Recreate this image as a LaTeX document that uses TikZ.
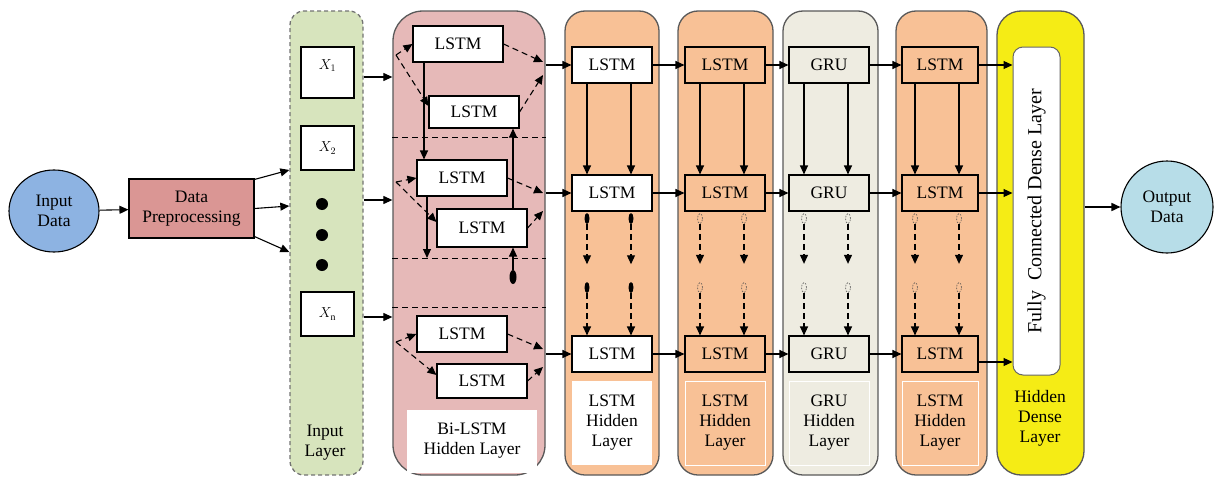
\documentclass[tikz,border=0pt]{standalone}
\usepackage{fontspec}
\setmainfont{Liberation Serif}
\usetikzlibrary{arrows.meta,shapes.geometric}
\definecolor{inblue}{HTML}{8DB3E2}
\definecolor{outblue}{HTML}{B7DDE8}
\definecolor{prepred}{HTML}{DA9694}
\definecolor{ingreen}{HTML}{D7E4BD}
\definecolor{birose}{HTML}{E6B9B8}
\definecolor{peach}{HTML}{F8C196}
\definecolor{grubeige}{HTML}{EEECE1}
\definecolor{denseyellow}{HTML}{F5EC15}
\newcommand{\txtsize}{\fontsize{17.5}{20}\selectfont}
\tikzset{
  layer/.style={draw=black!65, line width=1.3pt, rounded corners=20pt,
    minimum height=464pt, inner sep=0pt},
  cell/.style={draw, line width=1.1pt, minimum width=80pt, minimum height=36pt,
    inner sep=0pt, font=\txtsize},
  xbox/.style={draw, fill=white, line width=1.1pt, minimum width=53pt,
    minimum height=44pt, inner sep=0pt, font=\fontsize{14}{16}\selectfont},
  caption/.style={minimum width=80pt, minimum height=84pt, inner sep=0pt,
    align=center, font=\txtsize},
  arr/.style={-{Triangle[length=9pt,width=8pt]}, line width=1.1pt},
  darr/.style={arr, dash pattern=on 6pt off 4pt},
  sepline/.style={line width=1pt, dash pattern=on 6pt off 4pt},
  bigdot/.style={circle, fill=black, minimum size=12pt, inner sep=0pt},
  fullmark/.style={ellipse, fill=black, minimum width=5pt, minimum height=11pt, inner sep=0pt},
  ghostmark/.style={ellipse, draw=black!70, line width=0.6pt, dash pattern=on 1.5pt off 1.5pt,
    minimum width=5pt, minimum height=10pt, inner sep=0pt}
}
\begin{document}
\begin{tikzpicture}[x=1pt,y=-1pt]
  \useasboundingbox (0,0) rectangle (1215,479);

  % Define layers
  \node[layer, fill=ingreen, draw=black!55, dash pattern=on 4pt off 3pt,
    rounded corners=14pt, minimum width=73pt] (inlayer) at (326.5,243) {};
  \node[layer, fill=birose, rounded corners=30pt, minimum width=152pt] (bilayer) at (469,243) {};
  \node[layer, fill=peach, minimum width=94pt] (lstmlayerA) at (612,243) {};
  \node[layer, fill=peach, minimum width=95pt] (lstmlayerB) at (725.5,243) {};
  \node[layer, fill=grubeige, minimum width=95pt] (grulayer) at (830.5,243) {};
  \node[layer, fill=peach, minimum width=91pt] (lstmlayerC) at (941.5,243) {};
  \node[layer, fill=denseyellow, rounded corners=24pt, minimum width=87pt] (denselayer) at (1040.5,243) {};

  % Define nodes
  \node[ellipse, draw, line width=1.1pt, fill=inblue, minimum width=90pt, minimum height=82pt,
    align=center, font=\txtsize] (indata) at (54,211) {Input\\Data};
  \node[draw, line width=1.1pt, fill=prepred, minimum width=125pt, minimum height=59pt,
    align=center, font=\txtsize] (prep) at (191.5,208.5) {Data\\Preprocessing};
  \node[circle, draw, line width=1.1pt, fill=outblue, minimum size=92pt,
    align=center, font=\txtsize] (outdata) at (1167,207) {Output\\Data};

  % input layer
  \node[xbox, minimum height=51pt,
    label={[anchor=north, yshift=-10pt, font=\fontsize{14}{16}\selectfont]north:$X_1$}] (x1) at (327.5,72.5) {};
  \node[xbox] (x2) at (327.5,148) {$X_2$};
  \node[xbox] (xn) at (327.5,314) {$X_{\mathrm{n}}$};
  \node[bigdot] (dotA) at (322,204) {};
  \node[bigdot] (dotB) at (322,235) {};
  \node[bigdot] (dotC) at (322,265) {};
  \node[align=center, font=\txtsize] (incap) at (325,443) {Input\\Layer};

  % bi-lstm layer
  \node[cell, fill=white, minimum width=90pt] (a1) at (458,44) {LSTM};
  \node[cell, fill=white, minimum width=90pt, minimum height=32pt] (b1) at (474,112) {LSTM};
  \node[cell, fill=white, minimum width=90pt] (a2) at (462,178) {LSTM};
  \node[cell, fill=white, minimum width=90pt, minimum height=38pt] (b2) at (482,228) {LSTM};
  \node[cell, fill=white, minimum width=90pt] (a3) at (462,334) {LSTM};
  \node[cell, fill=white, minimum width=90pt, minimum height=34pt] (b3) at (482,381) {LSTM};
  \node[caption, fill=white, minimum width=130pt, minimum height=63pt] (bicap) at (472,441) {Bi-LSTM\\Hidden Layer};
  \node[fullmark, minimum width=7pt, minimum height=14pt] (bidot) at (513,277) {};
  \coordinate (s1) at (396,55);
  \coordinate (s2) at (396,182);
  \coordinate (s3) at (396,342);
  \coordinate (r1a) at (543,62);
  \coordinate (r1b) at (543,75);
  \coordinate (r2a) at (543,193);
  \coordinate (r2b) at (543,211);
  \coordinate (r3a) at (543,349);
  \coordinate (r3b) at (543,367);
  \coordinate (sepA) at (0,137);
  \coordinate (sepB) at (0,258);
  \coordinate (sepC) at (0,307);

  % recurrent columns
  \node[cell, fill=white] (t1) at (612,65) {LSTM};
  \node[cell, fill=white] (m1) at (612,193) {LSTM};
  \node[cell, fill=white] (b1x) at (612,354) {LSTM};
  \node[caption, fill=white] (cap1) at (612,423) {LSTM\\Hidden\\Layer};
  \node[cell, fill=peach] (t2) at (725,65) {LSTM};
  \node[cell, fill=peach] (m2) at (725,193) {LSTM};
  \node[cell, fill=peach] (b2x) at (725,354) {LSTM};
  \node[caption, fill=peach, draw=white, line width=0.8pt] (cap2) at (725,423) {LSTM\\Hidden\\Layer};
  \node[cell, fill=grubeige] (t3) at (829,65) {GRU};
  \node[cell, fill=grubeige] (m3) at (829,193) {GRU};
  \node[cell, fill=grubeige] (b3x) at (829,354) {GRU};
  \node[caption, fill=grubeige, draw=white, line width=0.8pt] (cap3) at (829,423) {GRU\\Hidden\\Layer};
  \node[cell, fill=peach, minimum width=76pt] (t4) at (940,65) {LSTM};
  \node[cell, fill=peach, minimum width=76pt] (m4) at (940,193) {LSTM};
  \node[cell, fill=peach, minimum width=76pt] (b4x) at (940,354) {LSTM};
  \node[caption, fill=peach, draw=white, line width=0.8pt, minimum width=76pt] (cap4) at (940,423) {LSTM\\Hidden\\Layer};

  % dense layer
  \node[draw=black!60, line width=1pt, fill=white, rounded corners=10pt, minimum width=47pt,
    minimum height=328pt, inner sep=0pt] (fcbox) at (1036.5,211) {};
  \node[rotate=90, font=\fontsize{20}{22}\selectfont] (fctext) at (fcbox.center) {Fully~ Connected Dense Layer};
  \node[align=center, font=\txtsize] (densecap) at (1040,418) {Hidden\\Dense\\Layer};

  % Connect the nodes
  \draw[arr] (indata) -- (prep);
  \draw[arr] ([yshift=-1pt]prep.north east) -- (inlayer.west |- 0,170);
  \draw[arr] (prep.east) -- (inlayer.west |- 0,206);
  \draw[arr] ([yshift=2pt]prep.south east) -- (inlayer.west |- 0,252);

  \draw[arr] (inlayer.east |- 0,77) -- (bilayer.west |- 0,77);
  \draw[arr] (inlayer.east |- 0,200) -- (bilayer.west |- 0,200);
  \draw[arr] (inlayer.east |- 0,317) -- (bilayer.west |- 0,317);

  \foreach \sep in {sepA,sepB,sepC}
    \draw[sepline] (bilayer.west |- \sep) -- (bilayer.east |- \sep);

  \foreach \i in {1,2,3}{
    \draw[darr] (s\i) -- (a\i.west);
    \draw[darr] (s\i) -- ([yshift=6pt]b\i.west);
    \draw[darr] (a\i.east) -- (r\i a);
    \draw[darr] (b\i.east) -- (r\i b);
  }
  \draw[arr] ([xshift=-34pt]a1.south) -- ([xshift=-34pt]a1.south |- a2.north);
  \draw[arr] ([xshift=-35pt]a2.south) -- ([xshift=-35pt]a2.south |- sepB);
  \draw[arr] ([xshift=31pt]b2.north) -- ([xshift=31pt]b2.north |- b1.south);
  \draw[arr] (bidot) -- (bidot |- b2.south);

  \draw[arr] (t1 -| bilayer.east) -- (t1);
  \draw[arr] (m1 -| bilayer.east) -- (m1);
  \draw[arr] (b1x -| bilayer.east) -- (b1x);
  \foreach \c/\d in {1/2,2/3,3/4}{
    \draw[arr] (t\c) -- (t\d);
    \draw[arr] (m\c) -- (m\d);
    \draw[arr] (b\c x) -- (b\d x);
  }
  \draw[arr] (t4) -- (t4 -| fcbox.west);
  \draw[arr] (m4) -- (m4 -| fcbox.west);
  \draw[arr] ([yshift=-8pt]b4x.east) -- ([yshift=-8pt]b4x.east -| fcbox.west);
  \draw[arr, line width=1.6pt] (denselayer.east |- outdata) -- (outdata);

  \foreach \c/\mk in {1/fullmark,2/ghostmark,3/ghostmark,4/ghostmark}{
    \foreach \dx in {-25,19}{
      \draw[arr] ([xshift=\dx pt]t\c.south) -- ([xshift=\dx pt]m\c.north);
      \path ([xshift=\dx pt]m\c.south) ++(0,7) node[\mk] (k1) {} ++(0,69) node[\mk] (k2) {};
      \draw[darr] (k1.south) -- ++(0,40);
      \draw[darr] (k2.south) -- (k2.south |- b\c x.north);
    }
  }
\end{tikzpicture}
\end{document}
